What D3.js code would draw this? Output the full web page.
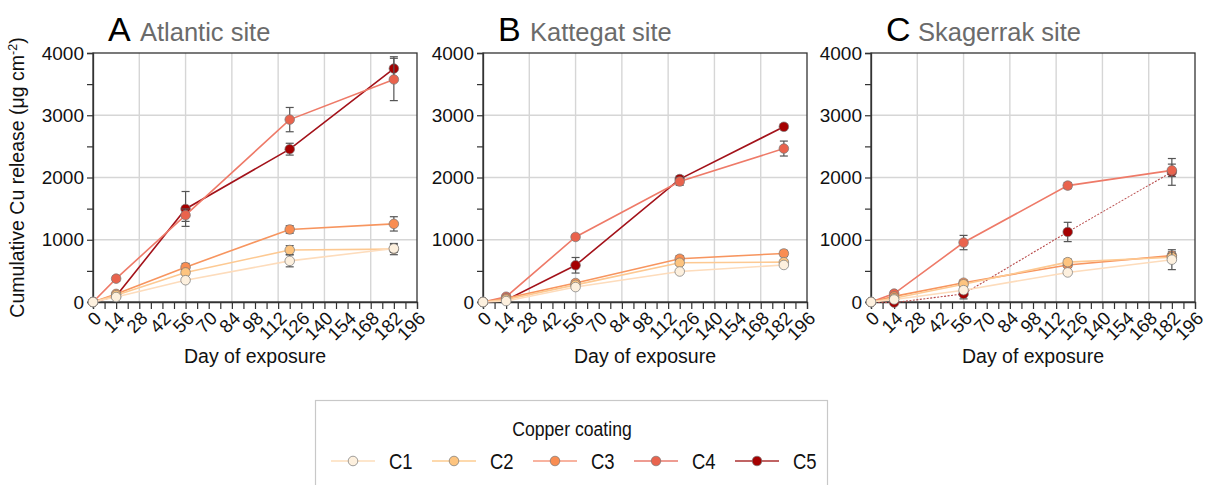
<!DOCTYPE html>
<html>
<head>
<meta charset="utf-8">
<script src="https://cdn.jsdelivr.net/npm/d3@7"></script>
<style>
  html, body { margin: 0; padding: 0; background: #fff; }
  svg { display: block; font-family: "Liberation Sans", Arial, sans-serif; }
</style>
</head>
<body>
<svg id="chart" width="1207" height="485"></svg>
<script>
// ---------- data ----------
const days = [0, 14, 56, 119, 182];
const seriesNames = ["C1", "C2", "C3", "C4", "C5"];
const panelLetters = ["A", "B", "C"];
const siteNames = ["Atlantic site", "Kattegat site", "Skagerrak site"];
const xTickValues = d3.range(0, 197, 7);
const xLabelValues = d3.range(0, 197, 14);
const yTickValues = d3.range(0, 4001, 500);
const yLabelValues = [0, 1000, 2000, 3000, 4000];
const xGridValues = [28, 56, 84, 112, 140, 168];
const yGridValues = [1000, 2000, 3000];

// Atlantic
const atlC1 = [0, 80, 350, 660, 860];
const atlC2 = [0, 110, 475, 835, 850];
const atlC3 = [0, 130, 560, 1165, 1255];
const atlC4 = [0, 375, 1395, 2930, 3575];
const atlC5 = [0, 95, 1495, 2455, 3750];
const atlC1err = [0, 20, 30, 95, 60];
const atlC2err = [0, 25, 40, 70, 90];
const atlC3err = [0, 25, 60, 60, 115];
const atlC4err = [0, 40, 100, 195, 340];
const atlC5err = [0, 20, 280, 95, 190];
// Kattegat
const katC1 = [0, 15, 240, 490, 595];
const katC2 = [0, 40, 275, 630, 640];
const katC3 = [0, 60, 305, 695, 780];
const katC4 = [0, 85, 1045, 1935, 2465];
const katC5 = [0, 30, 590, 1975, 2815];
const katC1err = [0, 10, 20, 20, 30];
const katC2err = [0, 15, 25, 40, 30];
const katC3err = [0, 20, 30, 50, 50];
const katC4err = [0, 30, 30, 60, 120];
const katC5err = [0, 10, 125, 50, 25];
// Skagerrak
const skaC1 = [0, 40, 190, 475, 680];
const skaC2 = [0, 60, 285, 640, 720];
const skaC3 = [0, 90, 310, 595, 745];
const skaC4 = [0, 135, 955, 1870, 2115];
const skaC5 = [0, -10, 130, 1125, 2090];
const skaC1err = [0, 15, 30, 30, 160];
const skaC2err = [0, 20, 30, 50, 60];
const skaC3err = [0, 30, 40, 40, 60];
const skaC4err = [0, 40, 115, 50, 100];
const skaC5err = [0, 15, 80, 155, 215];

const panelValues = [
  [atlC1, atlC2, atlC3, atlC4, atlC5],
  [katC1, katC2, katC3, katC4, katC5],
  [skaC1, skaC2, skaC3, skaC4, skaC5]
];
const panelErrors = [
  [atlC1err, atlC2err, atlC3err, atlC4err, atlC5err],
  [katC1err, katC2err, katC3err, katC4err, katC5err],
  [skaC1err, skaC2err, skaC3err, skaC4err, skaC5err]
];

// ---------- styles ----------
const fillColors = ["#fdf0de", "#fdc47f", "#f98d52", "#e9634d", "#a50000"];
const lineColors = ["#fddcbc", "#fdc992", "#f7955f", "#ee7a68", "#a3121a"];
const legendLineColors = ["#fde6cc", "#fdd9ad", "#f8b3a0", "#ee9c92", "#c06464"];

const svg = d3.select("#chart");
const panelLeft = [93, 483, 871];
const plotW = 324;
const plotTop = 53, plotBottom = 302;
const font = "\"Liberation Sans\", Arial, sans-serif";

const y = d3.scaleLinear().domain([0, 4000]).range([plotBottom, plotTop]);

panelLetters.forEach((letter, p) => {
  const x0 = panelLeft[p];
  const x = d3.scaleLinear().domain([0, 196]).range([x0, x0 + plotW]);
  const g = svg.append("g");

  // gridlines
  g.selectAll(".vg").data(xGridValues).enter().append("line")
    .attr("x1", d => x(d)).attr("x2", d => x(d))
    .attr("y1", plotTop).attr("y2", plotBottom)
    .attr("stroke", "#d6d6d6").attr("stroke-width", 1.4);
  g.selectAll(".hg").data(yGridValues).enter().append("line")
    .attr("x1", x0).attr("x2", x0 + plotW)
    .attr("y1", d => y(d)).attr("y2", d => y(d))
    .attr("stroke", "#d6d6d6").attr("stroke-width", 1.4);

  // frame
  g.append("rect").attr("x", x0).attr("y", plotTop)
    .attr("width", plotW).attr("height", plotBottom - plotTop)
    .attr("fill", "none").attr("stroke", "#333").attr("stroke-width", 1.3);

  // x axis
  const xAxis = d3.axisBottom(x).tickValues(xTickValues).tickSize(7).tickFormat("");
  const xa = g.append("g").attr("transform", `translate(0,${plotBottom})`).call(xAxis);
  xa.select(".domain").attr("stroke", "#333").attr("stroke-width", 1.3);
  xa.selectAll(".tick line").attr("stroke", "#333").attr("stroke-width", 1.2);
  g.selectAll(".xl").data(xLabelValues).enter().append("text")
    .attr("transform", d => `translate(${x(d) + 5},${plotBottom + 13}) rotate(-45)`)
    .attr("text-anchor", "end").attr("dy", "0.35em")
    .attr("font-size", 18.5).attr("font-family", font).attr("fill", "#111")
    .text(d => d);

  // y axis
  const yAxis = d3.axisLeft(y).tickValues(yTickValues).tickSize(6)
    .tickFormat(d => yLabelValues.includes(d) ? d : "");
  const ya = g.append("g").attr("transform", `translate(${x0},0)`).call(yAxis);
  ya.select(".domain").attr("stroke", "#333").attr("stroke-width", 1.3);
  ya.selectAll(".tick line").attr("stroke", "#333").attr("stroke-width", 1.2);
  ya.selectAll(".tick text").attr("font-size", 19).attr("font-family", font)
    .attr("fill", "#111").attr("x", -9);

  // titles
  g.append("text").attr("x", x0 + 15).attr("y", 41)
    .attr("font-size", 34).attr("font-family", font).attr("fill", "#000").text(letter);
  g.append("text").attr("x", x0 + 47).attr("y", 41)
    .attr("font-size", 25.5).attr("font-family", font).attr("fill", "#6b6b6b").text(siteNames[p]);

  // x axis title
  g.append("text").attr("x", x0 + plotW / 2).attr("y", 363)
    .attr("text-anchor", "middle").attr("font-size", 19.5).attr("font-family", font)
    .attr("fill", "#111").text("Day of exposure");

  // series drawn in reverse order (C5 bottom, C1 top)
  const line = d3.line().x(d => x(d.day)).y(d => y(d.v));
  for (let s = seriesNames.length - 1; s >= 0; s--) {
    const pts = days.map((d, i) => ({ day: d, v: panelValues[p][s][i], e: panelErrors[p][s][i] }));
    const sg = g.append("g");
    const dashed = (p === 2 && s === 4);
    sg.append("path").datum(pts).attr("d", line)
      .attr("fill", "none")
      .attr("stroke", dashed ? "#b84a4a" : lineColors[s])
      .attr("stroke-width", dashed ? 1.1 : 1.6)
      .attr("stroke-dasharray", dashed ? "2,1.5" : null);
    // error bars
    const eb = sg.selectAll(".eb").data(pts.filter(d => d.e > 0)).enter().append("g");
    eb.append("line").attr("x1", d => x(d.day)).attr("x2", d => x(d.day))
      .attr("y1", d => y(d.v - d.e)).attr("y2", d => y(d.v + d.e))
      .attr("stroke", "#555").attr("stroke-width", 1.2);
    eb.append("line").attr("x1", d => x(d.day) - 4).attr("x2", d => x(d.day) + 4)
      .attr("y1", d => y(d.v - d.e)).attr("y2", d => y(d.v - d.e))
      .attr("stroke", "#555").attr("stroke-width", 1.2);
    eb.append("line").attr("x1", d => x(d.day) - 4).attr("x2", d => x(d.day) + 4)
      .attr("y1", d => y(d.v + d.e)).attr("y2", d => y(d.v + d.e))
      .attr("stroke", "#555").attr("stroke-width", 1.2);
    sg.selectAll("circle").data(pts).enter().append("circle")
      .attr("cx", d => x(d.day)).attr("cy", d => y(d.v)).attr("r", 4.8)
      .attr("fill", fillColors[s]).attr("stroke", "#777").attr("stroke-width", 0.7);
  }
});

// y axis title
svg.append("text")
  .attr("transform", `translate(24,${(plotTop + plotBottom) / 2}) rotate(-90)`)
  .attr("text-anchor", "middle").attr("font-size", 19.5).attr("font-family", font).attr("fill", "#111")
  .call(t => {
    t.append("tspan").text("Cumulative Cu release (μg cm");
    t.append("tspan").attr("font-size", 12.5).attr("dy", -7).text("-2");
    t.append("tspan").attr("dy", 7).text(")");
  });

// ---------- legend ----------
const lg = svg.append("g");
lg.append("rect").attr("x", 315.5).attr("y", 400.5).attr("width", 512).attr("height", 100)
  .attr("fill", "#fff").attr("stroke", "#c8c8c8").attr("stroke-width", 1.2);
lg.append("text").attr("transform", "translate(572,436) scale(0.84,1)").attr("text-anchor", "middle")
  .attr("font-size", 21).attr("font-family", font).attr("fill", "#111").text("Copper coating");
const legX = d3.scalePoint().domain(seriesNames).range([353, 757]);
const li = lg.selectAll(".li").data(seriesNames).enter().append("g")
  .attr("transform", d => `translate(${legX(d)},461)`);
li.append("line").attr("x1", -22).attr("x2", 22)
  .attr("stroke", (d, i) => legendLineColors[i]).attr("stroke-width", 1.8);
li.append("circle").attr("r", 4.8).attr("fill", (d, i) => fillColors[i])
  .attr("stroke", "#777").attr("stroke-width", 0.7);
li.append("text").attr("transform", "translate(36,8) scale(0.84,1)").attr("font-size", 22).attr("font-family", font)
  .attr("fill", "#111").text(d => d);
</script>
</body>
</html>
